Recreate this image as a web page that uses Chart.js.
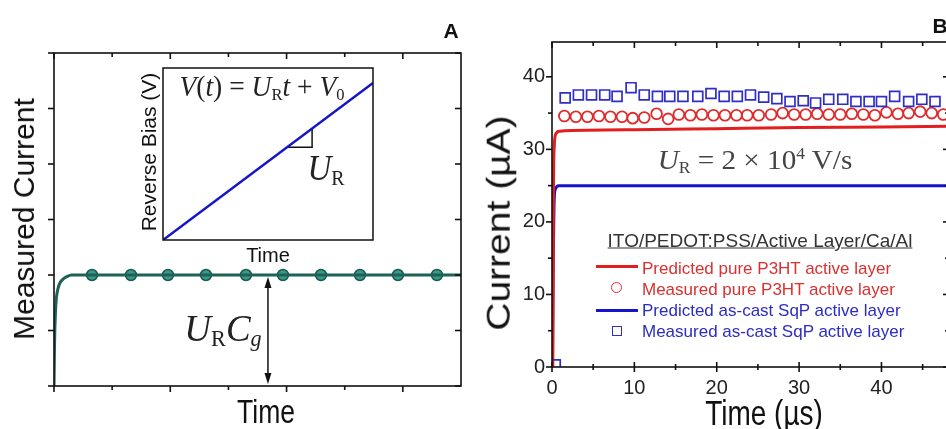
<!DOCTYPE html>
<html>
<head>
<meta charset="utf-8">
<script src="https://cdn.jsdelivr.net/npm/chart.js@4.4.1/dist/chart.umd.min.js"></script>
<style>
  html, body { margin: 0; padding: 0; background: #fff; }
  #wrap { position: relative; width: 946px; height: 429px; overflow: hidden; font-family: Arial, "Liberation Sans", sans-serif; color: #111; }
  canvas { position: absolute; }
  .c { position: absolute; white-space: nowrap; line-height: 1; transform: translate(-50%, -50%); }
  .m { font-family: "Liberation Serif", "DejaVu Serif", serif; color: #222; }
  .m i { font-style: italic; }
  .m sub { font-size: 0.6em; vertical-align: -0.25em; font-style: normal; }
  .leg { position: absolute; white-space: nowrap; line-height: 1; font-size: 17px; transform: translateY(-50%); }
  .red { color: #d93030; }
  .blue { color: #2c2cc4; }
  .swatch { position: absolute; }
</style>
</head>
<body>
<div id="wrap">
  <canvas id="panelA" width="470" height="429" style="left:0;top:0"></canvas>
  <canvas id="inset" width="216" height="178" style="left:160px;top:65px"></canvas>
  <canvas id="panelB" width="490" height="429" style="left:470px;top:0"></canvas>

  <!-- panel A texts -->
  <div class="c" style="left:451px;top:30px;font-size:21px;font-weight:bold">A</div>
  <div class="c" style="left:24px;top:219px;font-size:30px;transform:translate(-50%,-50%) rotate(-90deg)">Measured Current</div>
  <div class="c" style="left:266px;top:411px;font-size:34px;transform:translate(-50%,-50%) scaleX(0.78)">Time</div>
  <div class="c" style="left:148px;top:152px;font-size:21px;transform:translate(-50%,-50%) rotate(-90deg)">Reverse Bias (V)</div>
  <div class="c" style="left:268px;top:255px;font-size:20px">Time</div>
  <div class="c m" style="left:262px;top:88px;font-size:29px;transform:translate(-50%,-50%) scaleX(0.95)"><i>V</i>(<i>t</i>) = <i>U</i><sub>R</sub><i>t</i> + <i>V</i><sub>0</sub></div>
  <div class="c m" style="left:326px;top:170px;font-size:36px;transform:translate(-50%,-50%) scaleX(0.92)"><i>U</i><sub>R</sub></div>
  <div class="c m" style="left:223px;top:330px;font-size:37px"><i>U</i><sub>R</sub><i>C</i><sub><i>g</i></sub></div>

  <!-- panel B texts -->
  <div class="c" style="left:940px;top:25px;font-size:21px;font-weight:bold">B</div>
  <div class="c" style="left:498px;top:223px;font-size:39px;transform:translate(-50%,-50%) rotate(-90deg) scaleY(0.85)">Current (µA)</div>
  <div class="c" style="left:764px;top:412px;font-size:35px;transform:translate(-50%,-50%) scaleX(0.8)">Time (µs)</div>
  <div class="c m" style="left:755px;top:161px;font-size:27px;color:#444;transform:translate(-50%,-50%) scaleX(1.08)"><i>U</i><sub>R</sub> = 2 × 10<sup style="font-size:0.6em">4</sup> V/s</div>
  <div class="c" style="left:760px;top:240px;font-size:19px;color:#333;text-decoration:underline">ITO/PEDOT:PSS/Active Layer/Ca/Al</div>

  <div class="swatch" style="left:596px;top:265px;width:42px;height:3px;background:#e31e1e"></div>
  <div class="leg red" style="left:642px;top:268px">Predicted pure P3HT active layer</div>
  <div class="swatch" style="left:611px;top:282px;width:9px;height:9px;border:1.6px solid #e02b2b;border-radius:50%"></div>
  <div class="leg red" style="left:642px;top:289px">Measured pure P3HT active layer</div>
  <div class="swatch" style="left:596px;top:309px;width:42px;height:3px;background:#1414cc"></div>
  <div class="leg blue" style="left:642px;top:310px">Predicted as-cast SqP active layer</div>
  <div class="swatch" style="left:612px;top:326px;width:8px;height:8px;border:1.6px solid #2f2fc8"></div>
  <div class="leg blue" style="left:642px;top:331px">Measured as-cast SqP active layer</div>
</div>

<script>
// ---- panel A : sketch of the measured current (arbitrary units) ----
const timeA = [0, 0.005, 0.012, 0.02, 0.035, 0.052, 0.08, 0.11, 0.15, 3.5];
const currentA = [0, 0.8, 1.3, 1.58, 1.76, 1.86, 1.93, 1.97, 2.0, 2.0];
const markTimeA = [0.327, 0.662, 0.98, 1.307, 1.651, 1.969, 2.296, 2.631, 2.958, 3.293];
const markCurrentA = [2, 2, 2, 2, 2, 2, 2, 2, 2, 2];
const xTicksA = [0, 1, 2, 3];
const xMinorA = [0.5, 1.5, 2.5];
const yTicksA = [0, 1, 2, 3, 4, 5, 6];
const arrowTimeA = 1.84;
const arrowRangeA = [2, 0];

// inset: linear voltage ramp
const insetTime = [0, 1];
const insetBias = [0, 0.913];
const slopeTime = [0.59, 0.71, 0.71];
const slopeBias = [0.539, 0.539, 0.648];

// ---- panel B : current vs time (µs, µA) ----
const predTimeP3HT = [0.1, 0.18, 0.28, 0.45, 0.9, 10, 20, 30, 40, 48.2];
const predCurP3HT = [0, 25, 30.5, 32.1, 32.5, 32.7, 32.85, 33.0, 33.1, 33.2];
const predTimeSqP = [0.05, 0.15, 0.25, 0.4, 0.8, 48.2];
const predCurSqP = [0, 15, 22.5, 24.5, 25, 25];
const measTimeP3HT = [1.5, 2.9, 4.3, 5.7, 7.1, 8.5, 9.8, 11.2, 12.7, 14.1, 15.4, 16.8, 18.2, 19.6, 21.0, 22.4, 23.7,
  25.1, 26.6, 28.0, 29.4, 30.8, 32.2, 33.6, 35.0, 36.4, 37.8, 39.2, 40.6, 42.0, 43.3, 44.7, 46.1, 47.5];
const measCurP3HT = [34.6, 34.5, 34.5, 34.6, 34.5, 34.5, 34.3, 34.4, 34.9, 34.2, 34.8, 34.7, 34.8, 34.7, 34.7, 34.7, 34.7,
  34.7, 34.8, 35.0, 34.8, 34.8, 34.9, 34.8, 34.8, 34.9, 34.8, 34.7, 35.1, 34.9, 35.0, 35.2, 35.0, 34.8];
const measTimeSqP = [0.4, 1.6, 3.2, 4.8, 6.4, 7.9, 9.6, 11.2, 12.8, 14.3, 15.9, 17.7, 19.3, 20.9, 22.5, 24.1, 25.7,
  27.3, 28.9, 30.5, 32.0, 33.6, 35.3, 36.9, 38.5, 40.0, 41.6, 43.3, 44.9, 46.5];
const measCurSqP = [0.3, 37.1, 37.5, 37.5, 37.5, 37.3, 38.5, 37.5, 37.3, 37.3, 37.3, 37.3, 37.7, 37.3, 37.3, 37.5, 37.2,
  37.0, 36.6, 36.7, 36.4, 36.9, 36.9, 36.6, 36.6, 36.6, 37.3, 36.6, 36.9, 36.6];
const xTicksB = [0, 10, 20, 30, 40];
const xMinorB = [5, 15, 25, 35, 45];
const yTicksB = [0, 10, 20, 30, 40];
const yMinorB = [5, 15, 25, 35];

const pts = (xs, ys) => xs.map((v, i) => ({ x: v, y: ys[i] }));

// box around the plot, tick marks on all four sides, optional tick labels
const frameTicks = {
  id: 'frameTicks',
  afterDatasetsDraw(chart, args, o) {
    const { ctx, chartArea: a, scales } = chart;
    const x = scales.x, y = scales.y;
    ctx.save();
    ctx.strokeStyle = '#111';
    ctx.lineWidth = o.width;
    ctx.strokeRect(a.left, a.top, a.right - a.left, a.bottom - a.top);
    const tick = (side, v, len) => {
      ctx.beginPath();
      if (side === 'bottom' || side === 'top') {
        const px = x.getPixelForValue(v);
        const base = side === 'bottom' ? a.bottom : a.top;
        const s = side === 'bottom' ? 1 : -1;
        ctx.moveTo(px, base + s * len[0]);
        ctx.lineTo(px, base - s * len[1]);
      } else {
        const py = y.getPixelForValue(v);
        const base = side === 'left' ? a.left : a.right;
        const s = side === 'left' ? -1 : 1;
        ctx.moveTo(base + s * len[0], py);
        ctx.lineTo(base - s * len[1], py);
      }
      ctx.stroke();
    };
    ['left', 'right', 'top', 'bottom'].forEach(side => {
      const horiz = side === 'top' || side === 'bottom';
      (horiz ? o.xMajor : o.yMajor).forEach(v => tick(side, v, o.major[side]));
      (horiz ? o.xMinor : o.yMinor).forEach(v => tick(side, v, o.minor[side]));
    });
    if (o.labels) {
      ctx.fillStyle = o.labels.color;
      ctx.font = o.labels.font;
      ctx.textBaseline = 'middle';
      ctx.textAlign = 'center';
      o.xMajor.forEach(v => ctx.fillText(String(v), x.getPixelForValue(v), a.bottom + o.labels.xGap));
      ctx.textAlign = 'right';
      o.yMajor.forEach(v => ctx.fillText(String(v), a.left - o.labels.yGap, y.getPixelForValue(v)));
    }
    ctx.restore();
  }
};

// double headed arrow for U_R C_g
const arrowNote = {
  id: 'arrowNote',
  afterDatasetsDraw(chart) {
    const { ctx, scales: { x, y } } = chart;
    const px = x.getPixelForValue(arrowTimeA);
    const y1 = y.getPixelForValue(arrowRangeA[0]) + 2;
    const y2 = y.getPixelForValue(arrowRangeA[1]) - 2;
    ctx.save();
    ctx.strokeStyle = '#111';
    ctx.fillStyle = '#111';
    ctx.lineWidth = 1.5;
    ctx.beginPath();
    ctx.moveTo(px, y1 + 6);
    ctx.lineTo(px, y2 - 6);
    ctx.stroke();
    [[y1, 1], [y2, -1]].forEach(([yy, d]) => {
      ctx.beginPath();
      ctx.moveTo(px, yy);
      ctx.lineTo(px - 3.5, yy + d * 11);
      ctx.lineTo(px + 3.5, yy + d * 11);
      ctx.closePath();
      ctx.fill();
    });
    ctx.restore();
  }
};

const quiet = { responsive: false, animation: false, events: [] };

new Chart(document.getElementById('panelA'), {
  type: 'line',
  data: {
    datasets: [
      { data: pts(timeA, currentA), borderColor: '#1d6157', borderWidth: 3, pointRadius: 0,
        cubicInterpolationMode: 'monotone' },
      { data: pts(markTimeA, markCurrentA), showLine: false, pointRadius: 5.5,
        pointBackgroundColor: '#3a9888', pointBorderColor: '#1b5a50', pointBorderWidth: 1.5 }
    ]
  },
  options: {
    ...quiet,
    layout: { padding: { left: 54, top: 53, right: 9, bottom: 43 } },
    plugins: {
      legend: { display: false }, tooltip: { enabled: false },
      frameTicks: {
        width: 1.6, xMajor: xTicksA, xMinor: xMinorA, yMajor: yTicksA, yMinor: [],
        major: { left: [6, 0], bottom: [6, 0], top: [0, 6], right: [0, 6] },
        minor: { left: [4, 0], bottom: [4, 0], top: [0, 4], right: [0, 4] }
      }
    },
    scales: {
      x: { type: 'linear', min: 0, max: 3.5, display: false },
      y: { type: 'linear', min: 0, max: 6, display: false }
    }
  },
  plugins: [frameTicks, arrowNote]
});

new Chart(document.getElementById('inset'), {
  type: 'line',
  data: {
    datasets: [
      { data: pts(insetTime, insetBias), borderColor: '#1515c8', borderWidth: 2.5, pointRadius: 0 },
      { data: pts(slopeTime, slopeBias), borderColor: '#111', borderWidth: 1.5, pointRadius: 0 }
    ]
  },
  options: {
    ...quiet,
    layout: { padding: 3 },
    plugins: {
      legend: { display: false }, tooltip: { enabled: false },
      frameTicks: {
        width: 1.5, xMajor: [], xMinor: [], yMajor: [], yMinor: [],
        major: { left: [0, 0], bottom: [0, 0], top: [0, 0], right: [0, 0] },
        minor: { left: [0, 0], bottom: [0, 0], top: [0, 0], right: [0, 0] }
      }
    },
    scales: {
      x: { type: 'linear', min: 0, max: 1, display: false },
      y: { type: 'linear', min: 0, max: 1, display: false }
    }
  },
  plugins: [{ id: 'white', beforeDraw(c) { c.ctx.fillStyle = '#fff'; c.ctx.fillRect(0, 0, c.width, c.height); } }, frameTicks]
});

new Chart(document.getElementById('panelB'), {
  type: 'line',
  data: {
    datasets: [
      { label: 'Measured as-cast SqP active layer', data: pts(measTimeSqP, measCurSqP), showLine: false,
        pointStyle: 'rect', pointRadius: 7, pointBorderWidth: 1.7, pointBorderColor: '#2f2fc8',
        pointBackgroundColor: 'rgba(0,0,0,0)' },
      { label: 'Measured pure P3HT active layer', data: pts(measTimeP3HT, measCurP3HT), showLine: false,
        pointRadius: 5.4, pointBorderWidth: 1.8, pointBorderColor: '#e02b2b', pointBackgroundColor: 'rgba(0,0,0,0)' },
      { label: 'Predicted pure P3HT active layer', data: pts(predTimeP3HT, predCurP3HT), borderColor: '#e31e1e',
        borderWidth: 3, pointRadius: 0, cubicInterpolationMode: 'monotone' },
      { label: 'Predicted as-cast SqP active layer', data: pts(predTimeSqP, predCurSqP), borderColor: '#1414cc',
        borderWidth: 3, pointRadius: 0, cubicInterpolationMode: 'monotone' }
    ]
  },
  options: {
    ...quiet,
    layout: { padding: { left: 82, top: 42, right: 11, bottom: 62 } },
    plugins: {
      legend: { display: false }, tooltip: { enabled: false },
      frameTicks: {
        width: 1.6, xMajor: xTicksB, xMinor: xMinorB, yMajor: yTicksB, yMinor: yMinorB,
        major: { left: [6, 0], bottom: [5, 5], top: [0, 6], right: [0, 6] },
        minor: { left: [4, 0], bottom: [3, 3], top: [0, 4], right: [0, 4] },
        labels: { font: '20px Arial, "Liberation Sans", sans-serif', color: '#222', xGap: 21, yGap: 7 }
      }
    },
    scales: {
      x: { type: 'linear', min: 0, max: 48.2, display: false },
      y: { type: 'linear', min: 0, max: 44.8, display: false }
    }
  },
  plugins: [frameTicks]
});
</script>
</body>
</html>
